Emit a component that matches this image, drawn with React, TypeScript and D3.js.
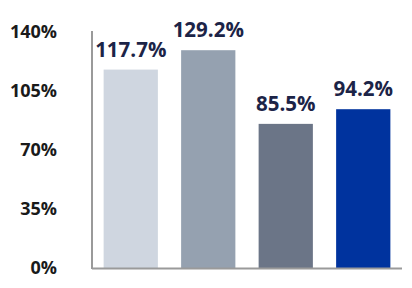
import React from "react";
import * as d3 from "d3";

const categories = ["A", "B", "C", "D"];
const values = [117.7, 129.2, 85.5, 94.2];
const colors = ["#cfd6e0", "#95a1b0", "#6b7587", "#00339e"];
const yTicks = [0, 35, 70, 105, 140];

export default function App() {
  const W = 412, H = 288;
  const x0 = 92, x1 = 402;
  const y = d3.scaleLinear().domain([0, 140]).range([268, 32]);
  const x = d3.scaleBand().domain(categories).range([x0, x1]).paddingInner(0.3).paddingOuter(0.15);
  const font = "'Open Sans', sans-serif";
  return (
    <svg width={W} height={H} style={{ position: "absolute", left: 0, top: 0, background: "#fff" }}>
      {yTicks.map((t) => (
        <text key={t} x={57} y={y(t)} dy="0.36em" textAnchor="end" fontFamily={font} fontWeight={700} fontSize={18} fill="#1a1a1a">
          {t}%
        </text>
      ))}
      {categories.map((c, i) => (
        <g key={c}>
          <rect x={x(c)} y={y(values[i])} width={x.bandwidth()} height={y(0) - y(values[i])} fill={colors[i]} />
          <text x={(x(c) as number) + x.bandwidth() / 2} y={y(values[i]) - 13} textAnchor="middle" fontFamily={font} fontWeight={700} fontSize={20.5} fill="#1c2447">
            {values[i].toFixed(1)}%
          </text>
        </g>
      ))}
      <line x1={x0} x2={x0} y1={31} y2={269} stroke="#9a9a9a" strokeWidth={2} />
      <line x1={x0} x2={x1} y1={268.5} y2={268.5} stroke="#9a9a9a" strokeWidth={2} />
    </svg>
  );
}
